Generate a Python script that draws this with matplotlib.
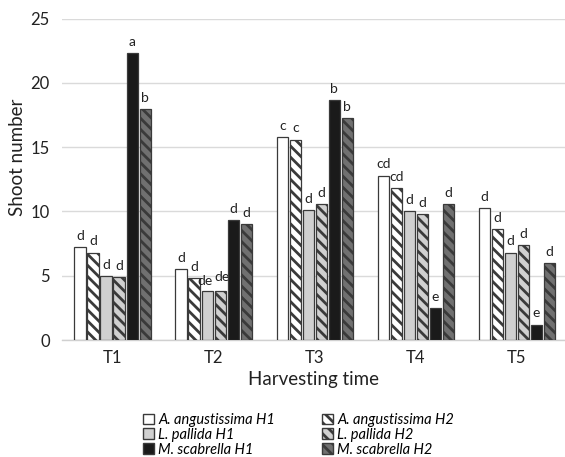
import numpy as np
import matplotlib
matplotlib.use('Agg')
import matplotlib.pyplot as plt
from matplotlib.patches import Patch

# ── Data ───────────────────────────────────────────────
times = ['T1', 'T2', 'T3', 'T4', 'T5']
series = ['A. angustissima H1', 'A. angustissima H2',
          'L. pallida H1', 'L. pallida H2',
          'M. scabrella H1', 'M. scabrella H2']

aa_h1 = [7.2, 5.5, 15.8, 12.8, 10.3]
aa_h2 = [6.8, 4.8, 15.6, 11.8, 8.6]
lp_h1 = [5.0, 3.8, 10.1, 10.0, 6.8]
lp_h2 = [4.9, 3.8, 10.6, 9.8, 7.4]
ms_h1 = [22.3, 9.3, 18.7, 2.5, 1.2]
ms_h2 = [18.0, 9.0, 17.3, 10.6, 6.0]

letters = [
    ['d', 'd', 'c', 'cd', 'd'],
    ['d', 'd', 'c', 'cd', 'd'],
    ['d', 'de', 'd', 'd', 'd'],
    ['d', 'de', 'd', 'd', 'd'],
    ['a', 'd', 'b', 'e', 'e'],
    ['b', 'd', 'b', 'd', 'd'],
]

values = [aa_h1, aa_h2, lp_h1, lp_h2, ms_h1, ms_h2]

# ── Styles ─────────────────────────────────────────────
faces = ['white', 'white', '#d0d0d0', '#d0d0d0', '#1a1a1a', '#707070']
hatches = [None, '\\\\\\', None, '\\\\\\', None, '\\\\\\']

plt.rcParams['font.family'] = ['Lato', 'DejaVu Sans']
plt.rcParams['hatch.linewidth'] = 2.0
plt.rcParams['hatch.color'] = 'black'

fig = plt.figure(figsize=(5.65, 4.57), dpi=100)
ax = fig.add_axes([0.110, 0.256, 0.890, 0.703])

x = np.arange(len(times))
w = 0.129
for i, vals in enumerate(values):
    pos = x + (i - 2.5) * w
    ax.bar(pos, vals, width=w * 0.88, color=faces[i], edgecolor='#3a3a3a',
           linewidth=0.9, hatch=hatches[i], zorder=3)
    for j, (p, v, t) in enumerate(zip(pos, vals, letters[i])):
        dx, dy = 0, 0.4
        # the two "de" labels in T2 sit side by side, as in the original
        if t == 'de' and i == 2:
            dx, dy = -0.02, 0.3
        if t == 'de' and i == 3:
            dx, dy = 0.02, 0.6
        ax.text(p + dx, v + dy, t, ha='center', va='bottom', fontsize=10,
                color='#222222')

ax.set_ylim(0, 25)
ax.set_xlim(-0.5, 4.475)
ax.set_yticks([0, 5, 10, 15, 20, 25])
ax.set_xticks(x)
ax.set_xticklabels(times)
ax.tick_params(axis='both', length=0, labelsize=12, colors='#222222')
ax.tick_params(axis='y', pad=9)
ax.tick_params(axis='x', pad=7)
ax.grid(axis='y', color='#dadada', linewidth=1, zorder=0)
for s in ['top', 'right', 'left']:
    ax.spines[s].set_visible(False)
ax.spines['bottom'].set_color('#d0d0d0')
ax.spines['bottom'].set_linewidth(1)

ax.set_ylabel('Shoot number', fontsize=13.5, color='#222222')
ax.yaxis.set_label_coords(-0.072, 0.57)
ax.set_xlabel('Harvesting time', fontsize=13.5, color='#222222', labelpad=4)

handles = [Patch(facecolor=faces[i], edgecolor='#3a3a3a', hatch=hatches[i],
                 label=series[i]) for i in range(6)]
order = [0, 2, 4, 1, 3, 5]
leg = fig.legend([handles[k] for k in order], [series[k] for k in order],
                 ncol=2, loc='lower left', bbox_to_anchor=(0.243, -0.012),
                 frameon=False, prop={'style': 'italic', 'size': 10.5},
                 handlelength=0.75, handleheight=0.75, handletextpad=0.3,
                 labelspacing=0.05, columnspacing=3.2, borderaxespad=0)

fig.savefig('out.png', dpi=100)
